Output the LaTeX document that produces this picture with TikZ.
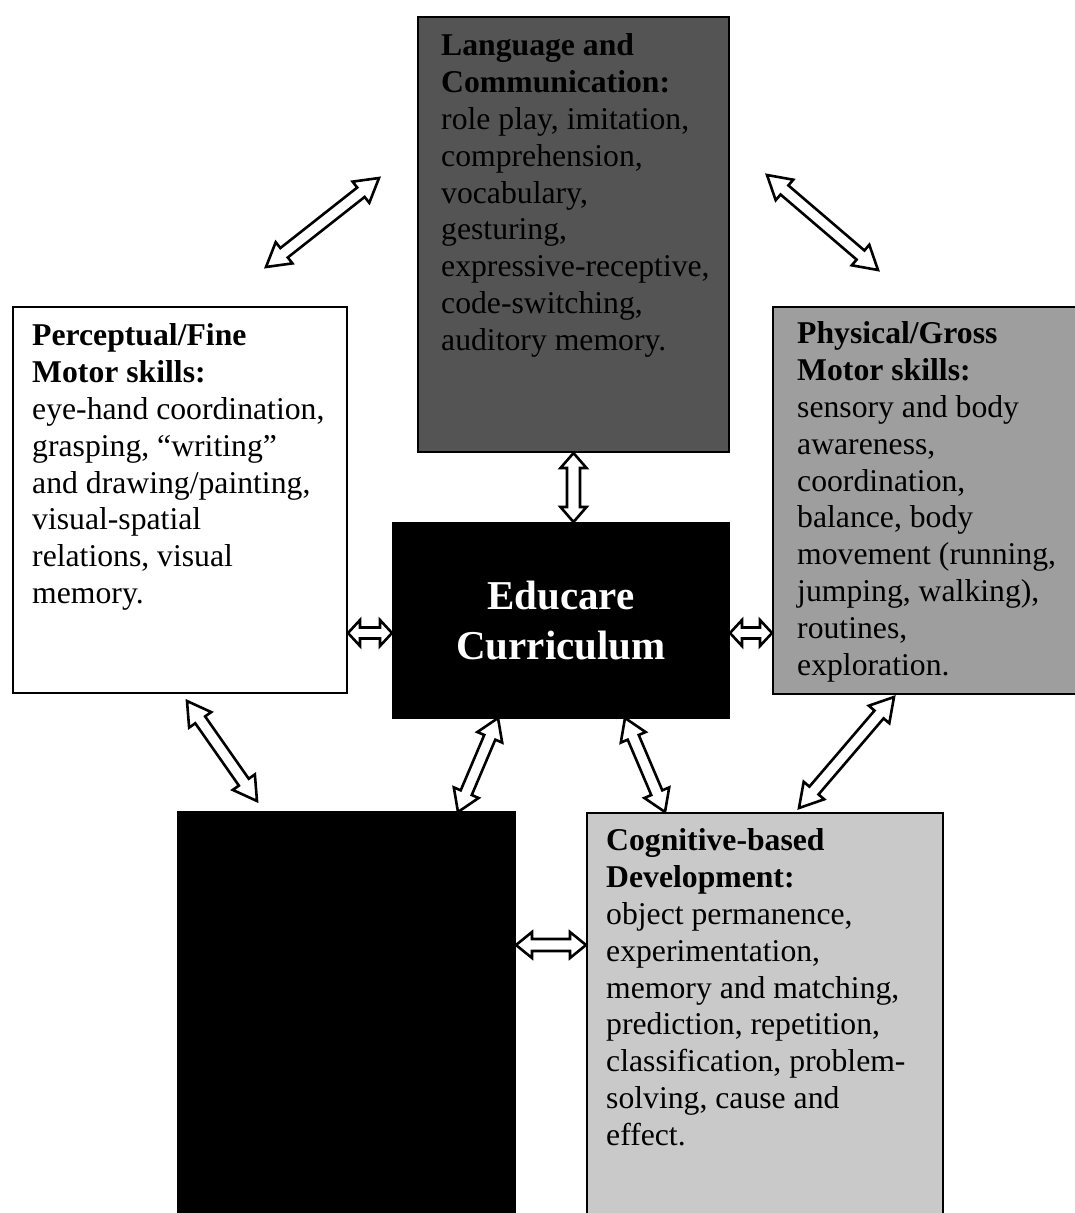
\documentclass[tikz,border=0pt]{standalone}
\usepackage{fontspec}
\setmainfont{Liberation Serif}
\usetikzlibrary{calc}
\def\arrhl{23pt}\def\arrhw{13.5pt}\def\arrsw{6pt}
\definecolor{langgray}{gray}{0.33}
\definecolor{physgray}{gray}{0.62}
\definecolor{coggray}{gray}{0.79}
\tikzset{
  arrowhl/.code={\def\arrhl{#1}},
  arrowhw/.code={\def\arrhw{#1}},
  arrowsw/.code={\def\arrsw{#1}},
  dblarrow/.style={draw=black, fill=white, line width=2.6pt, line join=miter,
    to path={
      -- ($(\tikztostart)!\arrhl!(\tikztotarget)!\arrhw!90:(\tikztotarget)$)
      -- ($(\tikztostart)!\arrhl!(\tikztotarget)!\arrsw!90:(\tikztotarget)$)
      -- ($(\tikztotarget)!\arrhl!(\tikztostart)!\arrsw!-90:(\tikztostart)$)
      -- ($(\tikztotarget)!\arrhl!(\tikztostart)!\arrhw!-90:(\tikztostart)$)
      -- (\tikztotarget)
      -- ($(\tikztotarget)!\arrhl!(\tikztostart)!\arrhw!90:(\tikztostart)$)
      -- ($(\tikztotarget)!\arrhl!(\tikztostart)!\arrsw!90:(\tikztostart)$)
      -- ($(\tikztostart)!\arrhl!(\tikztotarget)!\arrsw!-90:(\tikztotarget)$)
      -- ($(\tikztostart)!\arrhl!(\tikztotarget)!\arrhw!-90:(\tikztotarget)$)
      -- cycle}},
  box/.style={draw=black, line width=2pt, inner sep=0pt, rectangle},
  txt/.style={inner sep=0pt, align=left, anchor=north west,
    font=\fontsize{31.7}{36.8}\selectfont}
}
\begin{document}
\begin{tikzpicture}[x=1pt,y=-1pt]
\useasboundingbox (0,0) rectangle (1075,1213);
\clip (0,0) rectangle (1075,1213);
\fill[white] (0,0) rectangle (1075,1213);

% boxes
\node[box, fill=langgray, minimum width=311pt, minimum height=435pt] (lang) at (573.5,234.5) {};
\node[box, fill=white, minimum width=334pt, minimum height=386pt] (perc) at (180,500) {};
\node[box, fill=physgray, minimum width=317pt, minimum height=387pt] (phys) at (931.5,500.5) {};
\node[box, fill=black, text=white, align=center, minimum width=336pt, minimum height=195pt,
  font=\bfseries\fontsize{41}{50}\selectfont] (cur) at (561,620.5) {Educare\\Curriculum};
\node[box, fill=black, minimum width=337pt, minimum height=413pt] (blk) at (346.5,1018.5) {};
\node[box, fill=coggray, minimum width=356pt, minimum height=412pt] (cog) at (765,1019) {};

% texts
\node[txt] (langtxt) at ($(lang.north west)+(24pt,-14pt)$)
  {\strut\textbf{Language and}\\\textbf{Communication:}\\role play, imitation,\\comprehension,\\vocabulary,\\gesturing,\\expressive-receptive,\\code-switching,\\auditory memory.};
\node[txt] (perctxt) at ($(perc.north west)+(20pt,-14pt)$)
  {\strut\textbf{Perceptual/Fine}\\\textbf{Motor skills:}\\eye-hand coordination,\\grasping, “writing”\\and drawing/painting,\\visual-spatial\\relations, visual\\memory.};
\node[txt] (phystxt) at ($(phys.north west)+(25pt,-12pt)$)
  {\strut\textbf{Physical/Gross}\\\textbf{Motor skills:}\\sensory and body\\awareness,\\coordination,\\balance, body\\movement (running,\\jumping, walking),\\routines,\\exploration.};
\node[txt] (cogtxt) at ($(cog.north west)+(20pt,-13pt)$)
  {\strut\textbf{Cognitive-based}\\\textbf{Development:}\\object permanence,\\experimentation,\\memory and matching,\\prediction, repetition,\\classification, problem-\\solving, cause and\\effect.};

% connector end points
\coordinate (h1) at (0,633);
\coordinate (h2) at (0,945);
\coordinate (v2) at (lang.south |- cur.north);
\coordinate (l1) at (perc.east |- h1);
\coordinate (l2) at (cur.west |- h1);
\coordinate (r1) at (cur.east |- h1);
\coordinate (r2) at (phys.west |- h1);
\coordinate (b1) at (blk.east |- h2);
\coordinate (b2) at (cog.west |- h2);
\coordinate (tl1) at (266,267);
\coordinate (tl2) at (379,178);
\coordinate (tr1) at (767,175);
\coordinate (tr2) at (878,270);
\coordinate (cl1) at (498,718);
\coordinate (cl2) at (458,812);
\coordinate (cr1) at (625,718);
\coordinate (cr2) at (665,812);
\coordinate (pl1) at (187,701);
\coordinate (pl2) at (257,801);
\coordinate (pr1) at (894,697);
\coordinate (pr2) at (799,808);

% connectors
\draw[dblarrow] (tl1) to (tl2);
\draw[dblarrow] (tr1) to (tr2);
\draw[dblarrow, arrowhl=15pt, arrowhw=13pt, arrowsw=6.5pt] (lang.south) to (v2);
\draw[dblarrow, arrowhl=12pt, arrowhw=13pt, arrowsw=5.5pt] (l1) to (l2);
\draw[dblarrow, arrowhl=12pt, arrowhw=13pt, arrowsw=5.5pt] (r1) to (r2);
\draw[dblarrow, arrowhl=21pt] (cl1) to (cl2);
\draw[dblarrow, arrowhl=21pt] (cr1) to (cr2);
\draw[dblarrow] (pl1) to (pl2);
\draw[dblarrow] (pr1) to (pr2);
\draw[dblarrow, arrowhl=16pt, arrowhw=13pt, arrowsw=6pt] (b1) to (b2);
\end{tikzpicture}
\end{document}
